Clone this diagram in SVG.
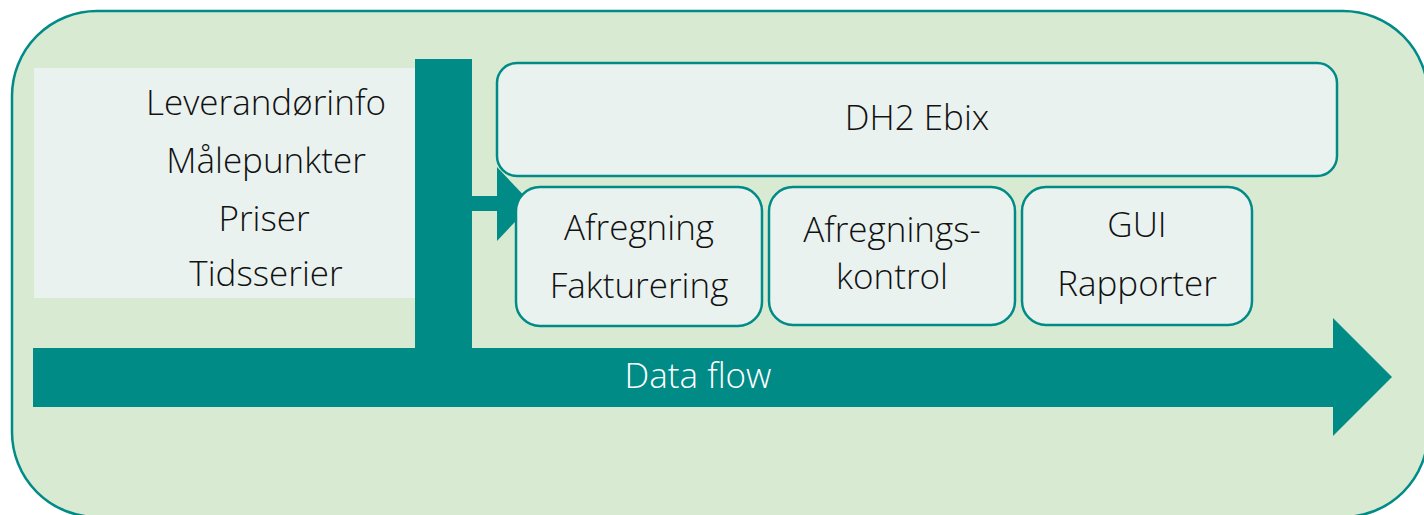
<svg xmlns="http://www.w3.org/2000/svg" width="1424" height="515" viewBox="0 0 1424 515">
<style>
.t{font-family:"Open Sans","Liberation Sans",sans-serif;font-size:35px;fill:#111;text-anchor:middle;font-weight:300}
.w{fill:#fff}
.box{fill:#EAF2F0;stroke:#008B87;stroke-width:2.5}
.teal{fill:#008B87}
</style>
<g id="background">
<rect x="12" y="11" width="1416" height="506" rx="85" fill="#D9EAD3" stroke="#008B87" stroke-width="2.5"/>
</g>
<g id="sources">
<rect x="34" y="68" width="384" height="230" fill="#EAF2F0"/>
<text class="t" x="266" y="115">Leverandørinfo</text>
<text class="t" x="266" y="173">Målepunkter</text>
<text class="t" x="264" y="231">Priser</text>
<text class="t" x="266" y="286">Tidsserier</text>
</g>
<g id="connectors">
<rect class="teal" x="415" y="59" width="57" height="292"/>
<rect class="teal" x="470" y="196" width="29" height="15"/>
<polygon class="teal" points="497,167 532,204 497,241"/>
<polygon class="teal" points="33,348 1333,348 1333,318 1392,377 1333,436 1333,407 33,407"/>
</g>
<g id="dataflow-label">
<text class="t w" x="698" y="388">Data flow</text>
</g>
<g id="dh2">
<rect class="box" x="497" y="63" width="840" height="113" rx="20"/>
<text class="t" x="917" y="130">DH2 Ebix</text>
</g>
<g id="afregning">
<rect class="box" x="516" y="187" width="246" height="139" rx="24"/>
<text class="t" x="639" y="240">Afregning</text>
<text class="t" x="639" y="298">Fakturering</text>
</g>
<g id="afregningskontrol">
<rect class="box" x="769" y="187" width="246" height="138" rx="24"/>
<text class="t" x="892" y="242">Afregnings-</text>
<text class="t" x="892" y="289">kontrol</text>
</g>
<g id="gui">
<rect class="box" x="1022" y="187" width="230" height="138" rx="24"/>
<text class="t" x="1137" y="237">GUI</text>
<text class="t" x="1137" y="296">Rapporter</text>
</g>
</svg>
